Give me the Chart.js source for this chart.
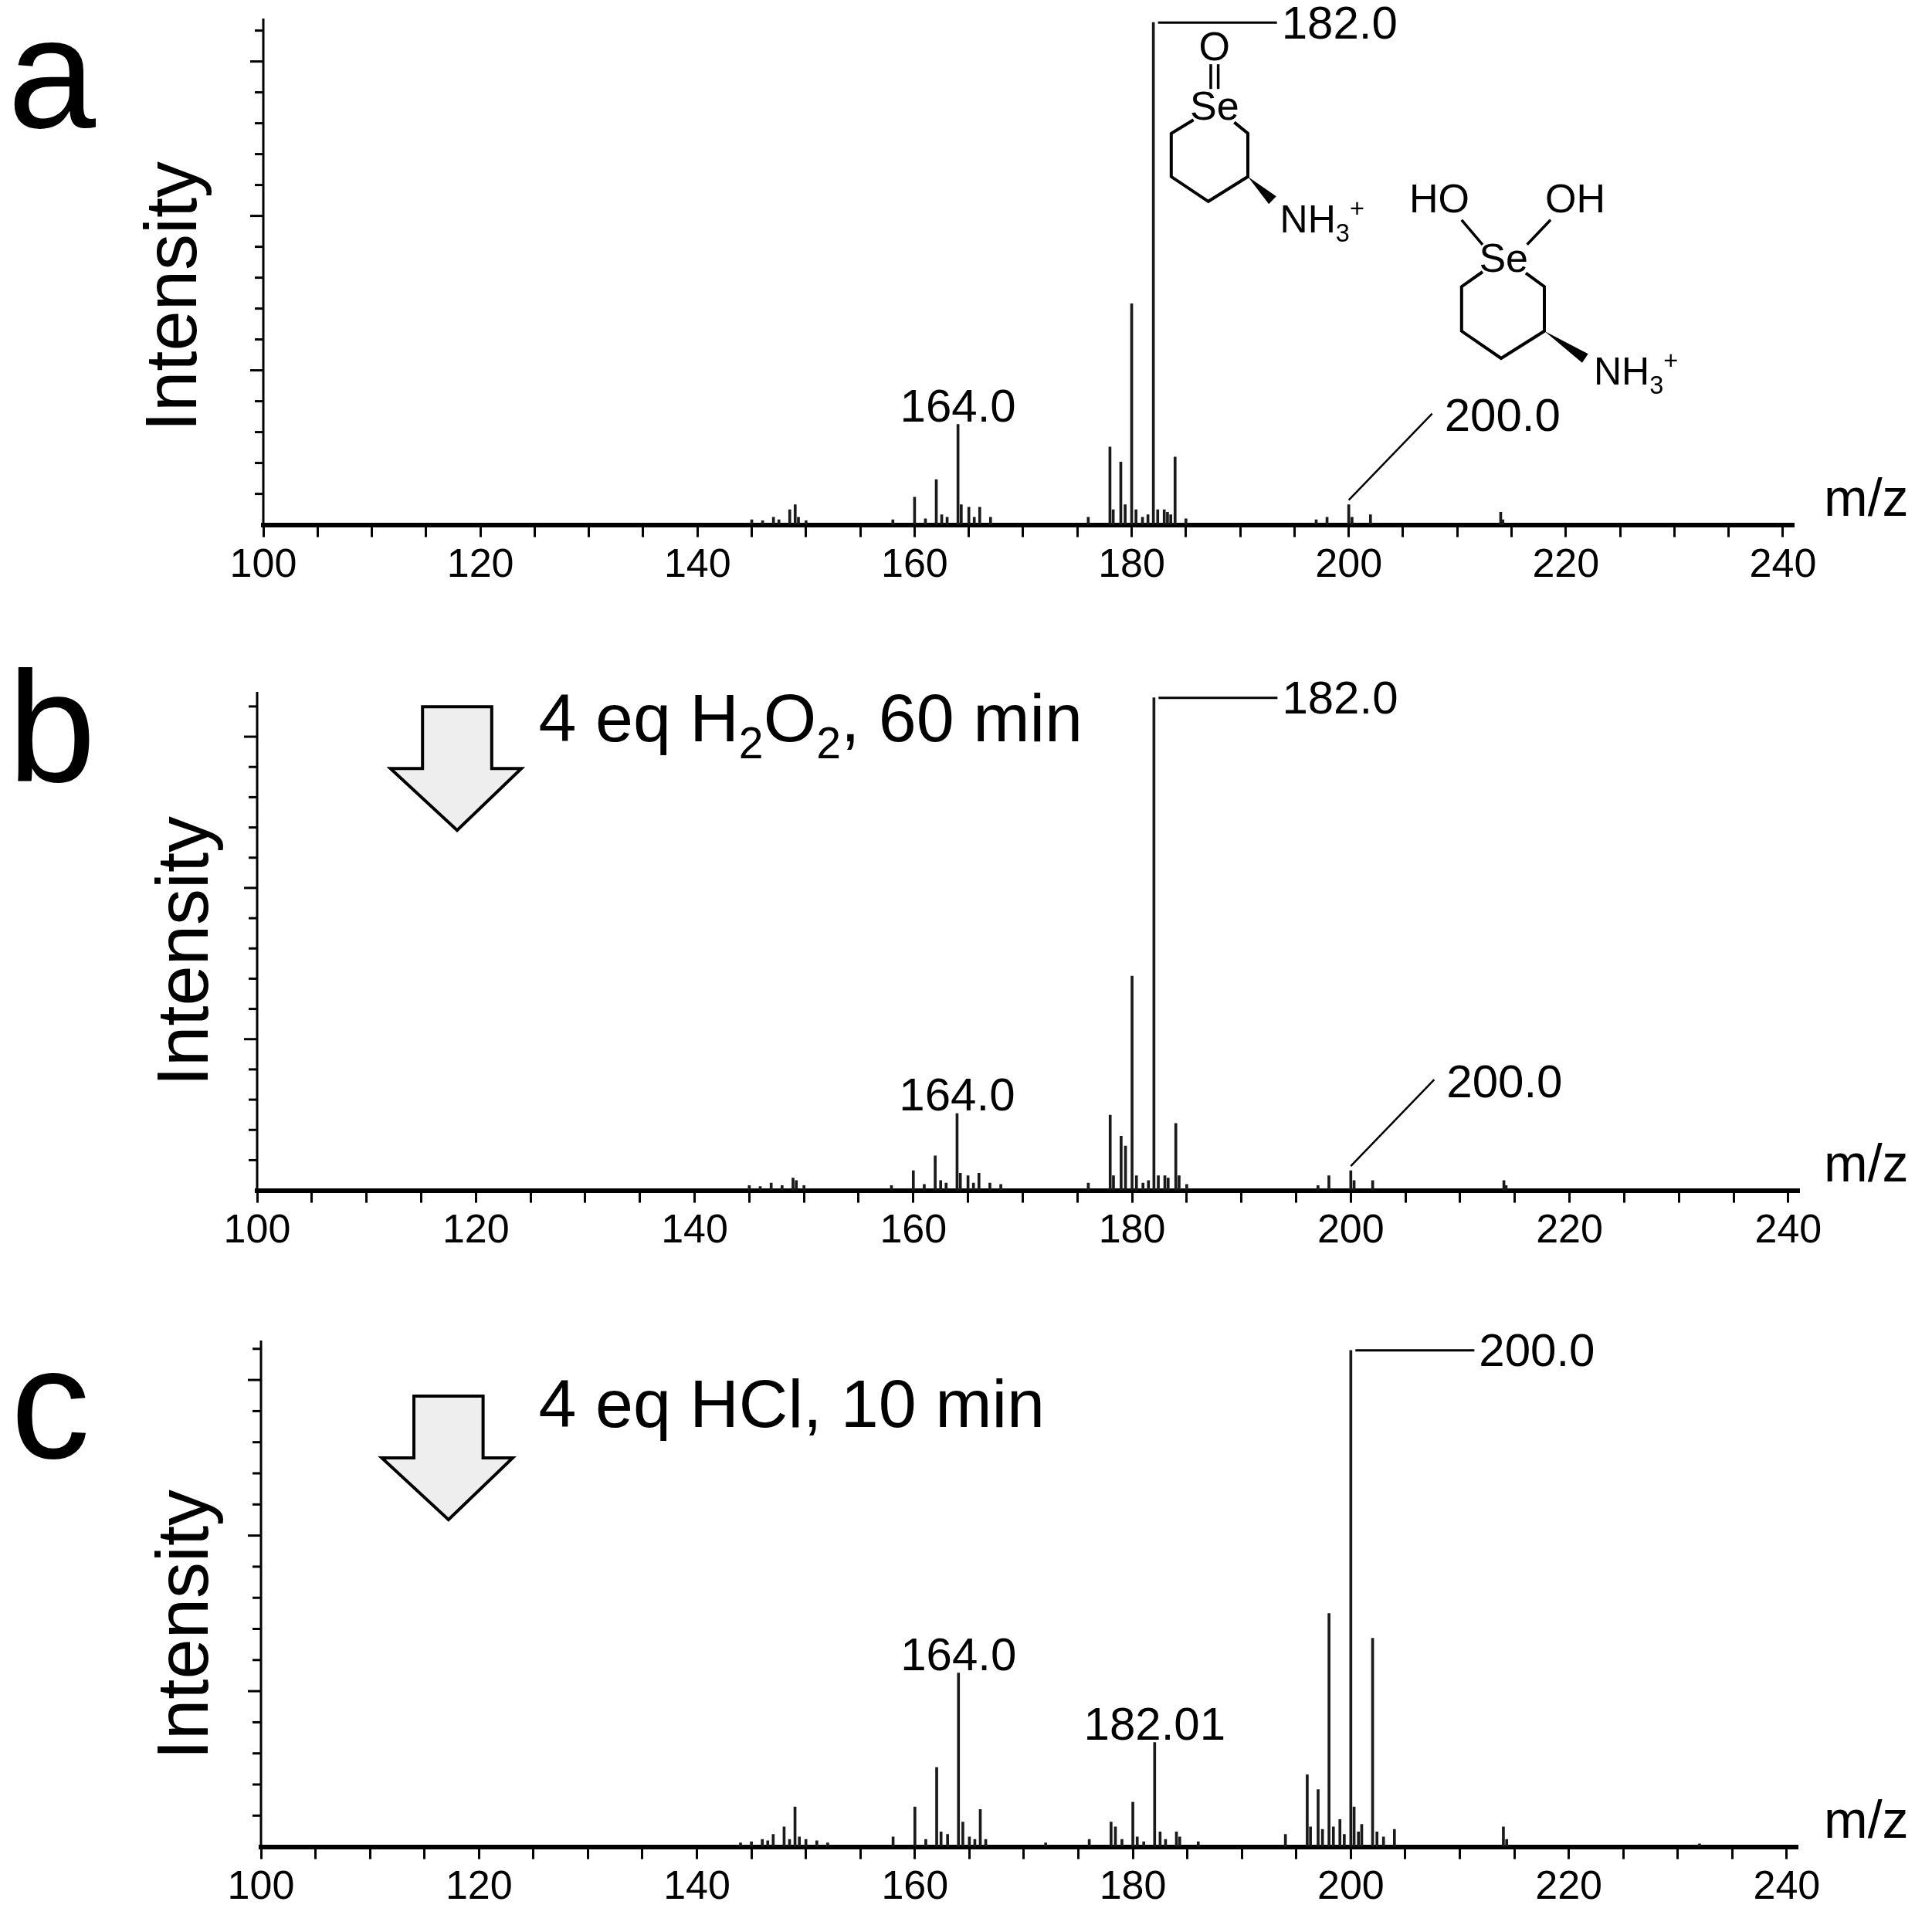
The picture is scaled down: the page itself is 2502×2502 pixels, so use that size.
<!DOCTYPE html>
<html><head><meta charset="utf-8">
<script src="https://cdn.jsdelivr.net/npm/chart.js@4.4.1/dist/chart.umd.min.js"></script>
<style>
html,body{margin:0;padding:0;background:#fff;}
.p{position:absolute;left:0;width:2502px;}
</style></head><body>
<div class="p" style="top:0;height:800px"><canvas id="ca"></canvas></div>
<div class="p" style="top:800px;height:880px"><canvas id="cb"></canvas></div>
<div class="p" style="top:1680px;height:822px"><canvas id="cc"></canvas></div>
<script>
// ---- data ----
const mzA = [145,146,147,147.5,148.5,149,149.3,150,158,160,161,162,162.5,163,164,164.3,165,165.5,166,167,176,178,178.3,179,179.4,180,180.4,181,181.5,182,182.4,183,183.3,183.6,184,185,197,198,200,200.3,202,214,214.2];
const intA = [1,0.8,1.5,1,3,4,1.5,0.8,1,5.5,1.2,9,2,1.5,20,4,3.5,1.5,3.5,1.5,1.5,15.5,3,12.5,4,44,3,1.5,2,100,3,3,2.5,2,13.5,1.2,1,1.5,4,1.5,2,2.5,1];
const mzB = [145,146,147,148,149,149.3,150,158,160,161,162,162.5,163,164,164.3,165,165.5,166,167,168,176,178,178.3,179,179.4,180,180.4,181,181.5,182,182.4,183,183.3,184,184.3,185,197,198,200,200.3,202,214,214.2];
const intB = [1,0.8,1.5,1,2.5,2,1,1,4,1.2,7,2,1.5,15.6,3.5,3,1.5,3.5,1.5,1.2,1.5,15.3,3,11,9,43.5,3,1.5,2,100,3,3,2.5,13.6,3,1.2,1,3,4,2,2,2,1];
const mzC = [144,145,146,146.5,147,148,148.5,149,149.4,150,151,152,158,160,161,162,162.4,163,164,164.4,165,165.5,166,166.5,172,176,178,178.4,179,180,180.4,181,182,182.5,183,184,184.3,186,194,196,196.3,197,197.4,198,198.4,199,199.4,200,200.3,200.7,201,202,202.4,203,204,214,214.3,232];
const intC = [0.8,1,1.5,1.2,2.5,4,1.5,8,2,1.5,1.2,0.8,2,8,1.5,16,3,2.5,35,5,2,1.5,7.5,1.5,0.8,1.5,5,4,1.5,9,2,1,21,3,1.5,3,2,1,2.5,14.5,4,11.5,3.5,47,4,5.5,2.5,100,8,3,4.5,42,3,2,3.5,4,1.5,0.6];
const xTickLabels = [100,120,140,160,180,200,220,240];

const S = 1.6;
const FONT = '"Liberation Sans", Arial, sans-serif';

function drawText(ctx, t, x, y, size, align, base){
  ctx.font = size+'px '+FONT; ctx.fillStyle='#000';
  ctx.textAlign = align||'left'; ctx.textBaseline = base||'middle';
  ctx.fillText(t,x,y);
}
function line(ctx, pts, w){
  ctx.beginPath(); ctx.moveTo(pts[0][0],pts[0][1]);
  for(let i=1;i<pts.length;i++) ctx.lineTo(pts[i][0],pts[i][1]);
  ctx.lineWidth=w||3; ctx.strokeStyle='#000'; ctx.stroke();
}
function subText(ctx, parts, x, y, size){
  ctx.textBaseline='alphabetic'; ctx.textAlign='left'; ctx.fillStyle='#000';
  let cx=x;
  for(const [t,k] of parts){
    const s = k==='n'?size:size*0.65;
    ctx.font = s+'px '+FONT;
    const dy = k==='sub'? size*0.25 : (k==='sup'? -size*0.4 : 0);
    ctx.fillText(t,cx,y+dy); cx += ctx.measureText(t).width;
  }
}
function arrow(ctx, x0,y0,oy){
  ctx.beginPath();
  const P=[[0,0],[56,0],[56,50],[80,50],[28,100],[-26,50],[0,50]];
  P.forEach((p,i)=>{const X=(x0+p[0])*S,Y=(y0+p[1])*S-oy; i?ctx.lineTo(X,Y):ctx.moveTo(X,Y);});
  ctx.closePath(); ctx.fillStyle='#eeeeee'; ctx.fill(); ctx.lineWidth=4; ctx.strokeStyle='#000'; ctx.stroke();
}
function wedge(ctx,x1,y1,x2,y2){
  const dx=x2-x1, dy=y2-y1, L=Math.hypot(dx,dy), nx=-dy/L*7, ny=dx/L*7;
  ctx.beginPath(); ctx.moveTo(x1,y1); ctx.lineTo(x2+nx,y2+ny); ctx.lineTo(x2-nx,y2-ny); ctx.closePath();
  ctx.fillStyle='#000'; ctx.fill();
}

const EXTRAS = {
  ca(ctx){
    const P=(x,y)=>[x*S,y*S];
    drawText(ctx,'O',983*S,40*S,52,'center','middle');
    line(ctx,[P(980,52),P(980,72)],3.5); line(ctx,[P(986,52),P(986,72)],3.5);
    drawText(ctx,'Se',983*S,88*S,52,'center','middle');
    line(ctx,[P(966,97),P(948,108),P(948,143),P(978,163),P(1010,143),P(1010,108),P(999,99)],4);
    wedge(ctx,1010*S,143*S,1030*S,162*S);
    subText(ctx,[['NH','n'],['3','sub'],['+','sup']],1036*S,188*S,50);
    drawText(ctx,'HO',1165*S,163*S,52,'center','middle');
    drawText(ctx,'OH',1275*S,163*S,52,'center','middle');
    line(ctx,[P(1183,178),P(1200,198)],3.5); line(ctx,[P(1255,178),P(1236,198)],3.5);
    drawText(ctx,'Se',1217*S,211*S,52,'center','middle');
    line(ctx,[P(1200,220),P(1183,232),P(1183,268),P(1215,290),P(1250,268),P(1250,232),P(1235,221)],4);
    wedge(ctx,1250*S,268*S,1283*S,290*S);
    subText(ctx,[['NH','n'],['3','sub'],['+','sup']],1290*S,311*S,50);
  },
  cb(ctx){
    arrow(ctx,342,572,800);
    subText(ctx,[['4 eq H','n'],['2','sub'],['O','n'],['2','sub'],[', 60 min','n']],436*S,600*S-800,88);
  },
  cc(ctx){
    arrow(ctx,335,1130,1680);
    subText(ctx,[['4 eq HCl, 10 min','n']],436*S,1155*S-1680,88);
  }
};

const decoPlugin = {
  id:'deco',
  afterDraw(chart){
    const o = chart.options.plugins.deco; const ctx = chart.ctx;
    const xs = chart.scales.x, ys = chart.scales.y, ca = chart.chartArea;
    ctx.save();
    const x0 = xs.getPixelForValue(100);
    line(ctx, [[x0, ys.getPixelForValue(0)],[x0, ca.top]], 3);
    for(let i=1; i*o.ystep <= ys.max; i++){
      const y = ys.getPixelForValue(i*o.ystep); const L = (i%5===0)?17:11;
      line(ctx, [[x0-L,y],[x0,y]], 3);
    }
    ctx.save(); ctx.translate(o.titleX, o.titleY); ctx.rotate(-Math.PI/2);
    drawText(ctx,'Intensity',0,0,94,'center','middle'); ctx.restore();
    drawText(ctx, o.letter, o.letterX, o.letterY, 205, 'left','alphabetic');
    drawText(ctx,'m/z', 2362, ys.getPixelForValue(0)-12, 68, 'left','alphabetic');
    for(const a of o.labels){
      const px = xs.getPixelForValue(a.mz), py = ys.getPixelForValue(a.v);
      if(a.type==='above') drawText(ctx,a.t,px,py-4,60,'center','alphabetic');
      else if(a.type==='right'){
        line(ctx,[[px+6,py],[px+160,py]],3);
        drawText(ctx,a.t,px+166,py+4,60,'left','middle');
      } else if(a.type==='diag'){
        line(ctx,[[px,py-6],[px+108,py-118]],2.5);
        drawText(ctx,a.t,px+124,py-112,60,'left','middle');
      }
    }
    const ex = EXTRAS[chart.canvas.id]; if(ex) ex(ctx);
    ctx.restore();
  }
};
Chart.register(decoPlugin);

function makeChart(id, mz, vals, ymax, pad, deco){
  const data = mz.map((m,i)=>({x:m,y:vals[i]}));
  return new Chart(document.getElementById(id), {
    type:'bar',
    data:{datasets:[{data, backgroundColor:'#1a1a1a', barThickness:3, categoryPercentage:1, barPercentage:1}]},
    options:{
      responsive:true, maintainAspectRatio:false, animation:false,
      layout:{padding:pad},
      plugins:{legend:{display:false}, tooltip:{enabled:false}, deco},
      scales:{
        x:{type:'linear', min:100, max:241, offset:false,
           afterBuildTicks(s){ s.ticks = []; for(let v=100; v<=240; v+=5) s.ticks.push({value:v}); },
           ticks:{autoSkip:false, maxRotation:0, padding:6, color:'#000',
             font:{family:FONT,size:52},
             callback:(v)=> xTickLabels.includes(v)? String(v):''},
           grid:{drawOnChartArea:false, drawTicks:true, tickLength:16, tickWidth:3, tickColor:'#000', offset:false},
           border:{display:true, color:'#000', width:6}},
        y:{display:false, min:0, max:ymax}
      }
    }
  });
}

makeChart('ca', mzA, intA, 100.8, {left:341, right:179, top:24, bottom:30}, {
  ystep:6.15, letter:'a', letterX:10, letterY:165, titleX:228, titleY:384,
  labels:[{mz:164,v:20,t:'164.0',type:'above'},{mz:182,v:100,t:'182.0',type:'right'},{mz:200,v:4,t:'200.0',type:'diag'}]
});
makeChart('cb', mzB, intB, 101.2, {left:333, right:172, top:96, bottom:48}, {
  ystep:6.14, letter:'b', letterX:10, letterY:1012-800, titleX:243, titleY:1232-800,
  labels:[{mz:164,v:15.6,t:'164.0',type:'above'},{mz:182,v:100,t:'182.0',type:'right'},{mz:200,v:4,t:'200.0',type:'diag'}]
});
makeChart('cc', mzC, intC, 102, {left:338, right:174, top:56, bottom:20}, {
  ystep:6.27, letter:'c', letterX:14, letterY:1888-1680, titleX:243, titleY:2104-1680,
  labels:[{mz:164,v:35,t:'164.0',type:'above'},{mz:182,v:21,t:'182.01',type:'above'},{mz:200,v:100,t:'200.0',type:'right'}]
});
</script>
</body></html>
